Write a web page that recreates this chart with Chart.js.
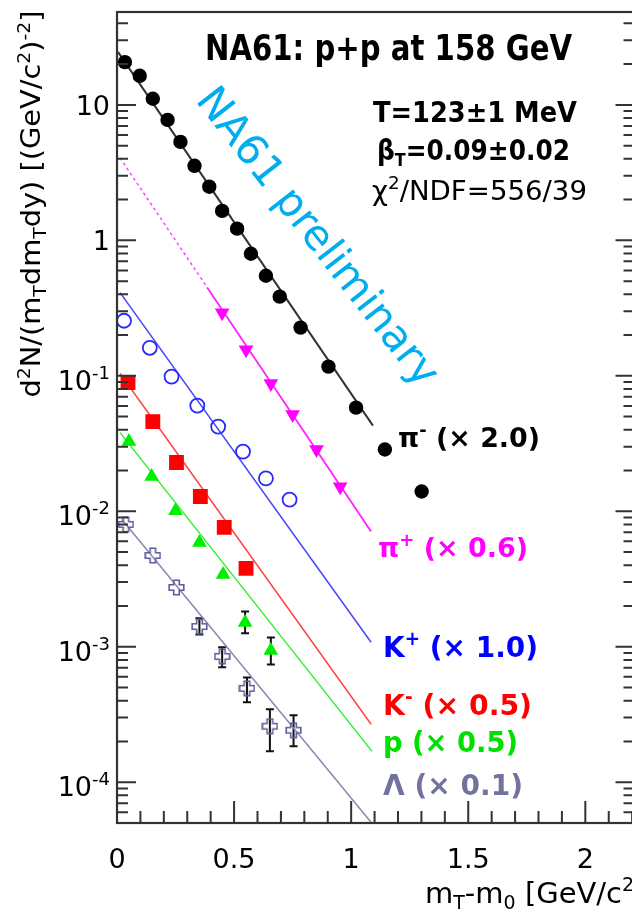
<!DOCTYPE html>
<html>
<head>
<meta charset="utf-8">
<title>NA61 p+p 158 GeV - transverse mass spectra</title>
<script src="https://cdn.jsdelivr.net/npm/chart.js@4.4.1/dist/chart.umd.min.js"></script>
<style>
  html, body { margin: 0; padding: 0; background: #fff; overflow: hidden; }
  #wrap { width: 632px; height: 913px; overflow: hidden; }
  canvas { display: block; }
</style>
</head>
<body>
<div id="wrap"><canvas id="spectra" width="645" height="913"></canvas></div>
<script>
// m_T - m_0 [GeV/c^2] and d2N/(m_T dm_T dy), already multiplied by the factor shown in the labels
const piMinusX = [0.034, 0.097, 0.153, 0.216, 0.271, 0.331, 0.394, 0.449, 0.513, 0.572, 0.636, 0.695, 0.784, 0.903, 1.021, 1.144, 1.301];
const piMinusY = [20.7, 16.4, 11.1, 7.75, 5.33, 3.55, 2.49, 1.65, 1.22, 0.796, 0.548, 0.384, 0.227, 0.117, 0.0582, 0.0286, 0.0140];

const piPlusX = [0.449, 0.551, 0.657, 0.750, 0.852, 0.953];
const piPlusY = [0.292, 0.156, 0.0876, 0.0518, 0.0286, 0.0152];

const kPlusX = [0.030, 0.140, 0.233, 0.343, 0.432, 0.538, 0.636, 0.737];
const kPlusY = [0.255, 0.161, 0.0987, 0.0603, 0.0422, 0.0276, 0.0175, 0.0122];

const kMinusX = [0.047, 0.153, 0.254, 0.356, 0.458, 0.551];
const kMinusY = [0.089, 0.0459, 0.0229, 0.01285, 0.0076, 0.00379];

const protonX = [0.051, 0.148, 0.250, 0.352, 0.453, 0.547, 0.657];
const protonY = [0.0327, 0.0181, 0.0101, 0.00589, 0.00342, 0.00151, 0.00094];
const protonErrLo = [null, null, null, null, null, 0.00126, 0.00074];
const protonErrHi = [null, null, null, null, null, 0.00182, 0.00117];

const lambdaX = [0.038, 0.153, 0.254, 0.352, 0.449, 0.555, 0.653, 0.754];
const lambdaY = [0.0080, 0.00472, 0.00274, 0.00141, 0.000849, 0.000493, 0.000259, 0.000242];
const lambdaErrLo = [null, null, null, 0.00123, 0.000705, 0.000389, 0.000169, 0.000184];
const lambdaErrHi = [null, null, null, 0.00162, 0.00099, 0.000594, 0.000345, 0.000312];

// blast-wave fit curves (end points)
const fitPiMinusX = [0.004, 1.093];
const fitPiMinusY = [24.6, 0.0429];
const fitPiPlusOutX = [0.013, 0.385];   // outside the fit range, drawn dashed
const fitPiPlusOutY = [4.06, 0.449];
const fitPiPlusX = [0.385, 1.085];
const fitPiPlusY = [0.449, 0.0071];
const fitKPlusX = [0.013, 1.085];
const fitKPlusY = [0.411, 0.00108];
const fitKMinusX = [0.013, 1.085];
const fitKMinusY = [0.104, 0.000268];
const fitProtonX = [0.013, 1.089];
const fitProtonY = [0.0381, 0.000169];
const fitLambdaX = [0.021, 1.085];
const fitLambdaY = [0.00871, 0.0000507];

// axis ticks
const xTickValues = [0, 0.5, 1, 1.5, 2];
const xTickLabels = ['0', '0.5', '1', '1.5', '2'];
const yTickValues = [10, 1, 0.1, 0.01, 0.001, 0.0001];
const yTickLabels = [['10', ''], ['1', ''], ['10', '-1'], ['10', '-2'], ['10', '-3'], ['10', '-4']];

const FONT = '"DejaVu Sans", Verdana, sans-serif';

const pts = (xs, ys) => xs.map((x, i) => ({ x, y: ys[i] }));

function openCross(color) {
  const c = document.createElement('canvas');
  c.width = 17; c.height = 17;
  const g = c.getContext('2d');
  const a = 2.8, b = 7.3, m = 8.5;
  g.beginPath();
  g.moveTo(m - a, m - b); g.lineTo(m + a, m - b); g.lineTo(m + a, m - a);
  g.lineTo(m + b, m - a); g.lineTo(m + b, m + a); g.lineTo(m + a, m + a);
  g.lineTo(m + a, m + b); g.lineTo(m - a, m + b); g.lineTo(m - a, m + a);
  g.lineTo(m - b, m + a); g.lineTo(m - b, m - a); g.lineTo(m - a, m - a);
  g.closePath();
  g.strokeStyle = color;
  g.lineWidth = 1.6;
  g.stroke();
  return c;
}

// draws text made of normal / sup / sub pieces, optionally squeezed to a given width
function drawParts(ctx, parts, x, y, o) {
  const size = o.size;
  const fontFor = k => `${o.weight || 'normal'} ${k ? Math.round(size * 0.65) : size}px ${FONT}`;
  let total = 0;
  const widths = parts.map(([t, k]) => {
    ctx.font = fontFor(k);
    const w = ctx.measureText(t).width;
    total += w;
    return w;
  });
  const sx = o.width ? o.width / total : 1;
  const drawn = total * sx;
  const start = o.align === 'right' ? -drawn : o.align === 'center' ? -drawn / 2 : 0;
  ctx.save();
  ctx.translate(x, y);
  if (o.rotate) ctx.rotate(o.rotate);
  ctx.translate(start, 0);
  ctx.scale(sx, 1);
  ctx.fillStyle = o.color || '#000';
  ctx.textAlign = 'left';
  ctx.textBaseline = o.baseline || 'alphabetic';
  let cx = 0;
  parts.forEach(([t, k], i) => {
    ctx.font = fontFor(k);
    const dy = k === 'sup' ? -size * 0.4 : k === 'sub' ? size * 0.22 : 0;
    ctx.fillText(t, cx, dy);
    cx += widths[i];
  });
  ctx.restore();
}

const errorBars = {
  id: 'errorBars',
  beforeDatasetsDraw(chart) {
    const { ctx, scales: { x, y } } = chart;
    ctx.save();
    ctx.strokeStyle = '#111';
    ctx.lineWidth = 2;
    [[protonX, protonErrLo, protonErrHi], [lambdaX, lambdaErrLo, lambdaErrHi]].forEach(([xs, lo, hi]) => {
      xs.forEach((v, i) => {
        if (lo[i] == null) return;
        const px = x.getPixelForValue(v);
        const p0 = y.getPixelForValue(lo[i]);
        const p1 = y.getPixelForValue(hi[i]);
        ctx.beginPath();
        ctx.moveTo(px, p0); ctx.lineTo(px, p1);
        ctx.moveTo(px - 4, p0); ctx.lineTo(px + 4, p0);
        ctx.moveTo(px - 4, p1); ctx.lineTo(px + 4, p1);
        ctx.stroke();
      });
    });
    ctx.restore();
  }
};

// frame, ticks, tick labels, titles and annotations
const frame = {
  id: 'frame',
  afterDraw(chart) {
    const { ctx, chartArea: a, scales: { x, y } } = chart;
    ctx.save();
    ctx.strokeStyle = '#333';
    ctx.lineWidth = 2.2;
    ctx.strokeRect(a.left, a.top, a.right - a.left, a.bottom - a.top);

    ctx.lineWidth = 2;
    ctx.beginPath();
    for (let i = 1; i <= 22; i++) {
      const v = i / 10;
      if (v > x.max) break;
      const px = x.getPixelForValue(v);
      const len = i % 5 === 0 ? 22 : 12;
      ctx.moveTo(px, a.bottom); ctx.lineTo(px, a.bottom - len);
    }
    for (let e = -5; e <= 1; e++) {
      for (let m = 1; m <= 9; m++) {
        const v = m * Math.pow(10, e);
        if (v < y.min || v > y.max) continue;
        const py = y.getPixelForValue(v);
        const len = m === 1 ? 19 : 11;
        ctx.moveTo(a.left, py); ctx.lineTo(a.left + len, py);
        ctx.moveTo(a.right, py); ctx.lineTo(a.right - len, py);
      }
    }
    ctx.stroke();

    xTickValues.forEach((v, i) => {
      drawParts(ctx, [[xTickLabels[i], '']], x.getPixelForValue(v), 868, { size: 27, align: 'center' });
    });
    yTickValues.forEach((v, i) => {
      const [base, sup] = yTickLabels[i];
      const parts = sup ? [[base, ''], [sup, 'sup']] : [[base, '']];
      drawParts(ctx, parts, 110, y.getPixelForValue(v) + (sup ? 14 : 10), { size: 27, align: 'right' });
    });

    drawParts(ctx, [['d', ''], ['2', 'sup'], ['N/(m', ''], ['T', 'sub'], ['dm', ''], ['T', 'sub'],
      ['dy) [(GeV/c', ''], ['2', 'sup'], [')', ''], ['-2', 'sup'], [']', '']],
      40, 204, { size: 26, align: 'center', rotate: -Math.PI / 2, width: 387 });
    drawParts(ctx, [['m', ''], ['T', 'sub'], ['-m', ''], ['0', 'sub'], [' [GeV/c', ''], ['2', 'sup'], [']', '']],
      425, 903, { size: 29 });

    drawParts(ctx, [['NA61: p+p at 158 GeV', '']], 205, 60, { size: 35, weight: 'bold', width: 367 });
    drawParts(ctx, [['T=123±1 MeV', '']], 373, 122, { size: 29, weight: 'bold', width: 204 });
    drawParts(ctx, [['β', ''], ['T', 'sub'], ['=0.09±0.02', '']], 377, 160, { size: 28, weight: 'bold', width: 193 });
    drawParts(ctx, [['χ', ''], ['2', 'sup'], ['/NDF=556/39', '']], 372, 200, { size: 27, width: 215 });

    drawParts(ctx, [['π', ''], ['-', 'sup'], [' (× 2.0)', '']], 398, 447, { size: 27, weight: 'bold', width: 142, color: '#000' });
    drawParts(ctx, [['π', ''], ['+', 'sup'], [' (× 0.6)', '']], 378, 557, { size: 27, weight: 'bold', width: 150, color: '#ff00ff' });
    drawParts(ctx, [['K', ''], ['+', 'sup'], [' (× 1.0)', '']], 383, 657, { size: 29, weight: 'bold', width: 155, color: '#0000ff' });
    drawParts(ctx, [['K', ''], ['-', 'sup'], [' (× 0.5)', '']], 383, 715, { size: 29, weight: 'bold', width: 149, color: '#ff0000' });
    drawParts(ctx, [['p (× 0.5)', '']], 383, 752, { size: 29, weight: 'bold', width: 135, color: '#00e000' });
    drawParts(ctx, [['Λ (× 0.1)', '']], 383, 795, { size: 29, weight: 'bold', width: 140, color: '#72729c' });

    drawParts(ctx, [['NA61 preliminary', '']], 316, 238, {
      size: 42, align: 'center', baseline: 'middle', rotate: 52 * Math.PI / 180, color: '#00aeef'
    });
    ctx.restore();
  }
};

const line = (xs, ys, color, width, dash) => ({
  data: pts(xs, ys), showLine: true, pointRadius: 0, borderColor: color,
  borderWidth: width, borderDash: dash || [], fill: false
});

const markers = (xs, ys, style) => Object.assign({ data: pts(xs, ys), showLine: false }, style);

new Chart(document.getElementById('spectra'), {
  type: 'scatter',
  data: {
    datasets: [
      markers(piMinusX, piMinusY, { pointStyle: 'circle', pointRadius: 7.2, backgroundColor: '#000', borderColor: '#000', borderWidth: 0 }),
      markers(piPlusX, piPlusY, { pointStyle: 'triangle', rotation: 180, pointRadius: 8.5, backgroundColor: '#ff00ff', borderWidth: 0 }),
      markers(kPlusX, kPlusY, { pointStyle: 'circle', pointRadius: 7, backgroundColor: 'rgba(0,0,0,0)', borderColor: '#2a2aff', borderWidth: 1.8 }),
      markers(kMinusX, kMinusY, { pointStyle: 'rect', pointRadius: 10.5, backgroundColor: '#ff0000', borderWidth: 0 }),
      markers(protonX, protonY, { pointStyle: 'triangle', pointRadius: 8.5, backgroundColor: '#00ee00', borderWidth: 0 }),
      markers(lambdaX, lambdaY, { pointStyle: openCross('#5c5c98'), pointRadius: 8 }),
      line(fitPiMinusX, fitPiMinusY, '#333', 2),
      line(fitPiPlusOutX, fitPiPlusOutY, '#ff44ff', 1.5, [3, 3]),
      line(fitPiPlusX, fitPiPlusY, '#ff22ff', 1.8),
      line(fitKPlusX, fitKPlusY, '#4444ff', 1.5),
      line(fitKMinusX, fitKMinusY, '#ff4444', 1.5),
      line(fitProtonX, fitProtonY, '#33ee33', 1.5),
      line(fitLambdaX, fitLambdaY, '#8888b0', 1.5)
    ]
  },
  options: {
    responsive: false,
    animation: false,
    devicePixelRatio: 1,
    layout: { padding: { left: 117, top: 12, right: 6, bottom: 90 } },
    plugins: { legend: { display: false }, tooltip: { enabled: false } },
    scales: {
      x: { type: 'linear', display: false, min: 0, max: 2.21 },
      y: { type: 'logarithmic', display: false, min: 5e-5, max: 48.5 }
    }
  },
  plugins: [errorBars, frame]
});
</script>
</body>
</html>
